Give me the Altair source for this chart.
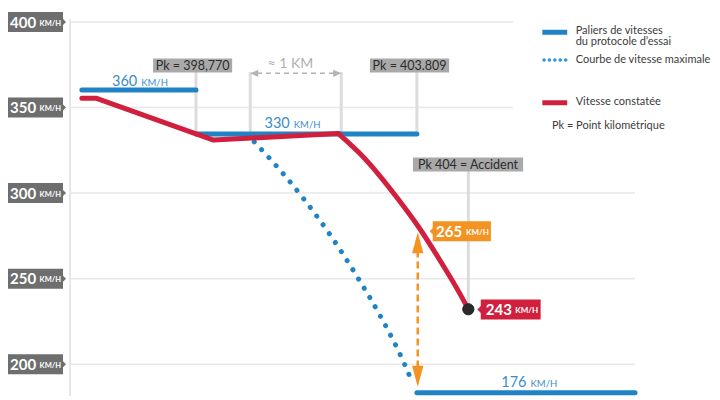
import altair as alt
import pandas as pd

# ---------------- data ----------------
# x = schematic track position (arbitrary units, 0..100), y = speed in km/h
red_lin_x = [2.1, 4.7, 25.4, 47.5]
red_lin_y = [355.4, 355.4, 331.0, 334.8]
red_cur_x = [47.5, 51.1, 54.6, 58.1, 61.7, 65.2, 68.8, 70.5]
red_cur_y = [334.8, 323.8, 311.0, 296.4, 280.2, 262.2, 242.4, 232.1]

max_x = [32.6, 37.65, 41.3, 45.85, 51.0, 54.9, 59.2, 60.65]
max_y = [330.0, 311.6, 296.9, 276.5, 250.2, 228.3, 200.1, 188.8]

step_x1 = [2.1, 22.3, 61.4]
step_x2 = [22.3, 61.4, 100.0]
step_y = [360.3, 334.5, 183.3]
step_num = ["360", "330", "176"]
step_lab_x = [11.9, 38.9, 80.8]
step_lab_y = [365.2, 340.4, 189.2]

y_ticks = [400, 350, 300, 250, 200]
grid_end = [78.4, 78.4, 100.0, 100.0, 100.0]

pk_text = ["Pk = 398,770", "Pk = 403.809", "Pk 404 = Accident"]
pk_x1 = [14.7, 53.1, 60.7]
pk_x2 = [28.7, 67.1, 80.2]
pk_y = [374.6, 374.6, 316.7]

drop_x = [22.3, 31.9, 48.0, 61.4, 70.5]
drop_y1 = [374.0, 370.8, 370.8, 374.0, 316.0]
drop_y2 = [334.5, 334.5, 334.5, 334.5, 232.1]

km_x1, km_x2, km_y = 31.9, 48.0, 370.0
km_text_x, km_text_y = 39.0, 375.3

arrow_x = 61.55
arrow_top, arrow_bot = 277.1, 186.8
arrow_shaft = [266.5, 198.0]

tag_text = ["265", "243"]
tag_color = ["#f39322", "#d0203e"]
tag_x1 = [64.2, 72.7]
tag_x2 = [74.5, 83.3]
tag_tip = [63.65, 72.1]
tag_y = [277.7, 232.0]
tag_num_x = [64.8, 73.6]
tag_unit_x = [70.1, 78.8]

acc_x, acc_y = 70.5, 232.1

leg_x1, leg_x2, leg_tx = 83.6, 88.0, 89.5
leg_lines = ["Paliers de vitesses", "du protocole d\u2019essai",
             "Courbe de vitesse maximale", "Vitesse constat\u00e9e"]
leg_lines_y = [394.9, 388.1, 377.8, 353.0]
leg_note = "Pk = Point kilom\u00e9trique"
leg_note_x, leg_note_y = 85.3, 339.2
leg_blue_y, leg_dot_y, leg_red_y = 394.0, 377.8, 352.8

# ---------------- styles ----------------
BLUE = "#1f83c5"
BLUE_TXT = "#3a8dcc"
RED = "#d0203e"
ORANGE = "#f39322"
GREY_TAG = "#6e6e6e"
GRID = "#e7e7e7"
FONT = "Lato"

xs = alt.Scale(domain=[0, 100], nice=False, zero=False)
ys = alt.Scale(domain=[181.4, 400], nice=False, zero=False)


def X(f):
    return alt.X(f, type="quantitative", scale=xs, axis=None)


def Y(f):
    return alt.Y(f, type="quantitative", scale=ys, axis=None)


layers = []

# grid lines
grid = pd.DataFrame({"y": y_ticks, "x1": [0] * 5, "x2": grid_end})
layers.append(alt.Chart(grid).mark_rule(color=GRID, strokeWidth=1.5).encode(
    x=X("x1"), x2="x2", y=Y("y")))
# vertical axis line
vax = pd.DataFrame({"x": [0], "y1": [401.7], "y2": [181.4]})
layers.append(alt.Chart(vax).mark_rule(color=GRID, strokeWidth=2).encode(
    x=X("x"), y=Y("y1"), y2="y2"))

# grey drop lines
drops = pd.DataFrame({"x": drop_x, "y1": drop_y1, "y2": drop_y2})
layers.append(alt.Chart(drops).mark_rule(color="#dcdcdc", strokeWidth=3).encode(
    x=X("x"), y=Y("y1"), y2="y2"))

# speed steps (blue)
steps = pd.DataFrame({"x1": step_x1, "x2": step_x2, "y": step_y})
layers.append(alt.Chart(steps).mark_rule(color=BLUE, strokeWidth=5, strokeCap="round").encode(
    x=X("x1"), x2="x2", y=Y("y")))
slab = pd.DataFrame({"x": step_lab_x, "y": step_lab_y, "t": step_num})
layers.append(alt.Chart(slab).mark_text(align="right", baseline="middle", font=FONT,
                                        fontSize=14.5, color=BLUE_TXT).encode(
    x=X("x"), y=Y("y"), text="t:N"))
layers.append(alt.Chart(slab).mark_text(align="left", baseline="middle", font=FONT,
                                        fontSize=9.5, color=BLUE_TXT, dx=4, dy=1).encode(
    x=X("x"), y=Y("y"), text=alt.value("KM/H")))

# max speed curve (dotted)
mx = pd.DataFrame({"x": max_x, "y": max_y})
layers.append(alt.Chart(mx).mark_line(color=BLUE, strokeWidth=5, strokeCap="round",
                                      strokeDash=[0.1, 10.7], interpolate="monotone").encode(
    x=X("x"), y=Y("y")))

# observed speed (red)
rl = pd.DataFrame({"x": red_lin_x, "y": red_lin_y})
layers.append(alt.Chart(rl).mark_line(color=RED, strokeWidth=5, strokeCap="round",
                                      strokeJoin="round").encode(x=X("x"), y=Y("y")))
rc = pd.DataFrame({"x": red_cur_x, "y": red_cur_y})
layers.append(alt.Chart(rc).mark_line(color=RED, strokeWidth=5, strokeCap="round",
                                      interpolate="monotone").encode(x=X("x"), y=Y("y")))

# orange double arrow
shaft = pd.DataFrame({"x": [arrow_x], "y1": [arrow_shaft[0]], "y2": [arrow_shaft[1]]})
layers.append(alt.Chart(shaft).mark_rule(color=ORANGE, strokeWidth=2.5,
                                         strokeDash=[7, 4]).encode(
    x=X("x"), y=Y("y1"), y2="y2"))
heads = pd.DataFrame({"x": [arrow_x], "y": [arrow_top]})
layers.append(alt.Chart(heads).mark_point(shape="M0,0L0.54,2L-0.54,2Z", size=441, filled=True,
                                          opacity=1, color=ORANGE, strokeWidth=0).encode(
    x=X("x"), y=Y("y")))
headb = pd.DataFrame({"x": [arrow_x], "y": [arrow_bot]})
layers.append(alt.Chart(headb).mark_point(shape="M0,0L0.54,-2L-0.54,-2Z", size=441, filled=True,
                                          opacity=1, color=ORANGE, strokeWidth=0).encode(
    x=X("x"), y=Y("y")))

# ~1 km grey arrow
kmd = pd.DataFrame({"x1": [km_x1 + 1.2], "x2": [km_x2 - 1.2], "y": [km_y]})
layers.append(alt.Chart(kmd).mark_rule(color="#b3b3b3", strokeWidth=1.5, strokeDash=[5, 4]).encode(
    x=X("x1"), x2="x2", y=Y("y")))
kml = pd.DataFrame({"x": [km_x1], "y": [km_y]})
layers.append(alt.Chart(kml).mark_point(shape="M0,0L2,-0.9L2,0.9Z", size=64, filled=True,
                                        opacity=1, color="#b3b3b3", strokeWidth=0).encode(
    x=X("x"), y=Y("y")))
kmr = pd.DataFrame({"x": [km_x2], "y": [km_y]})
layers.append(alt.Chart(kmr).mark_point(shape="M0,0L-2,-0.9L-2,0.9Z", size=64, filled=True,
                                        opacity=1, color="#b3b3b3", strokeWidth=0).encode(
    x=X("x"), y=Y("y")))
kmt = pd.DataFrame({"x": [km_text_x], "y": [km_text_y], "t": ["\u2248 1 KM"]})
layers.append(alt.Chart(kmt).mark_text(align="center", baseline="middle", font=FONT,
                                       fontSize=14, color="#b0b0b0").encode(
    x=X("x"), y=Y("y"), text="t:N"))

# Pk boxes
pk = pd.DataFrame({"x1": pk_x1, "x2": pk_x2, "y": pk_y, "t": pk_text})
pk["xm"] = (pk["x1"] + pk["x2"]) / 2
layers.append(alt.Chart(pk).mark_rule(color="#a9a9a9", strokeWidth=14).encode(
    x=X("x1"), x2="x2", y=Y("y")))
layers.append(alt.Chart(pk).mark_text(align="center", baseline="middle", font=FONT,
                                      fontSize=12.5, color="#2b2b2b", dy=0.5).encode(
    x=X("xm"), y=Y("y"), text="t:N"))

# accident point
acc = pd.DataFrame({"x": [acc_x], "y": [acc_y]})
layers.append(alt.Chart(acc).mark_point(shape="circle", size=125, filled=True, opacity=1,
                                        color="#2a2a2a", stroke="#1c1c1c", strokeWidth=1).encode(
    x=X("x"), y=Y("y")))

# value tags (265 / 243)
tags = pd.DataFrame({"x1": tag_x1, "x2": tag_x2, "tip": tag_tip, "y": tag_y, "t": tag_text,
                     "c": tag_color, "nx": tag_num_x, "ux": tag_unit_x})
layers.append(alt.Chart(tags).mark_rule(strokeWidth=20).encode(
    x=X("x1"), x2="x2", y=Y("y"), color=alt.Color("c:N", scale=None)))
layers.append(alt.Chart(tags).mark_point(shape="M0,0L1,-1L1,1Z", size=81, filled=True, opacity=1,
                                         strokeWidth=0).encode(
    x=X("tip"), y=Y("y"), color=alt.Color("c:N", scale=None)))
layers.append(alt.Chart(tags).mark_text(align="left", baseline="middle", font=FONT, fontSize=15,
                                        fontWeight="bold", color="white", dy=0.5).encode(
    x=X("nx"), y=Y("y"), text="t:N"))
layers.append(alt.Chart(tags).mark_text(align="left", baseline="middle", font=FONT, fontSize=8,
                                        fontWeight="bold", color="white", dy=1.5).encode(
    x=X("ux"), y=Y("y"), text=alt.value("KM/H")))

# y-axis tags
yt = pd.DataFrame({"y": y_ticks, "t": [str(v) for v in y_ticks]})
layers.append(alt.Chart(yt).mark_rule(color=GREY_TAG, strokeWidth=20).encode(
    x=alt.value(-66), x2=alt.value(-7), y=Y("y")))
layers.append(alt.Chart(yt).mark_point(shape="M0,0L-1,-1L-1,1Z", size=36, filled=True, opacity=1,
                                       color=GREY_TAG, strokeWidth=0).encode(
    x=alt.value(-4), y=Y("y")))
layers.append(alt.Chart(yt).mark_text(align="left", baseline="middle", font=FONT, fontSize=15,
                                      fontWeight="bold", color="white", dy=0.5).encode(
    x=alt.value(-60), y=Y("y"), text="t:N"))
layers.append(alt.Chart(yt).mark_text(align="left", baseline="middle", font=FONT, fontSize=7.5,
                                      fontWeight="bold", color="white", dy=1.5).encode(
    x=alt.value(-30.5), y=Y("y"), text=alt.value("KM/H")))

# legend
lb = pd.DataFrame({"x1": [leg_x1], "x2": [leg_x2], "y": [leg_blue_y]})
layers.append(alt.Chart(lb).mark_rule(color=BLUE, strokeWidth=5).encode(
    x=X("x1"), x2="x2", y=Y("y")))
ldot = pd.DataFrame({"x": [leg_x1 + 0.3, leg_x2 - 0.2], "y": [leg_dot_y, leg_dot_y]})
layers.append(alt.Chart(ldot).mark_line(color="#2a9bd8", strokeWidth=3.5, strokeCap="round",
                                        strokeDash=[0.1, 5.3]).encode(x=X("x"), y=Y("y")))
lr = pd.DataFrame({"x1": [leg_x1], "x2": [leg_x2], "y": [leg_red_y]})
layers.append(alt.Chart(lr).mark_rule(color=RED, strokeWidth=5).encode(
    x=X("x1"), x2="x2", y=Y("y")))
lt = pd.DataFrame({"x": [leg_tx] * len(leg_lines), "y": leg_lines_y, "t": leg_lines})
layers.append(alt.Chart(lt).mark_text(align="left", baseline="middle", font=FONT,
                                      fontSize=11, color="#3c3c3c").encode(
    x=X("x"), y=Y("y"), text="t:N"))
ln = pd.DataFrame({"x": [leg_note_x], "y": [leg_note_y], "t": [leg_note]})
layers.append(alt.Chart(ln).mark_text(align="left", baseline="middle", font=FONT,
                                      fontSize=11, color="#3c3c3c").encode(
    x=X("x"), y=Y("y"), text="t:N"))

chart = alt.layer(*layers).properties(
    width=565, height=374,
    autosize=alt.AutoSizeParams(type="none"),
    padding={"left": 62, "top": 14, "right": 77, "bottom": 0},
    background="white",
).configure_view(stroke=None)

chart.save("out.html", embed_options={"renderer": "svg", "actions": False})
